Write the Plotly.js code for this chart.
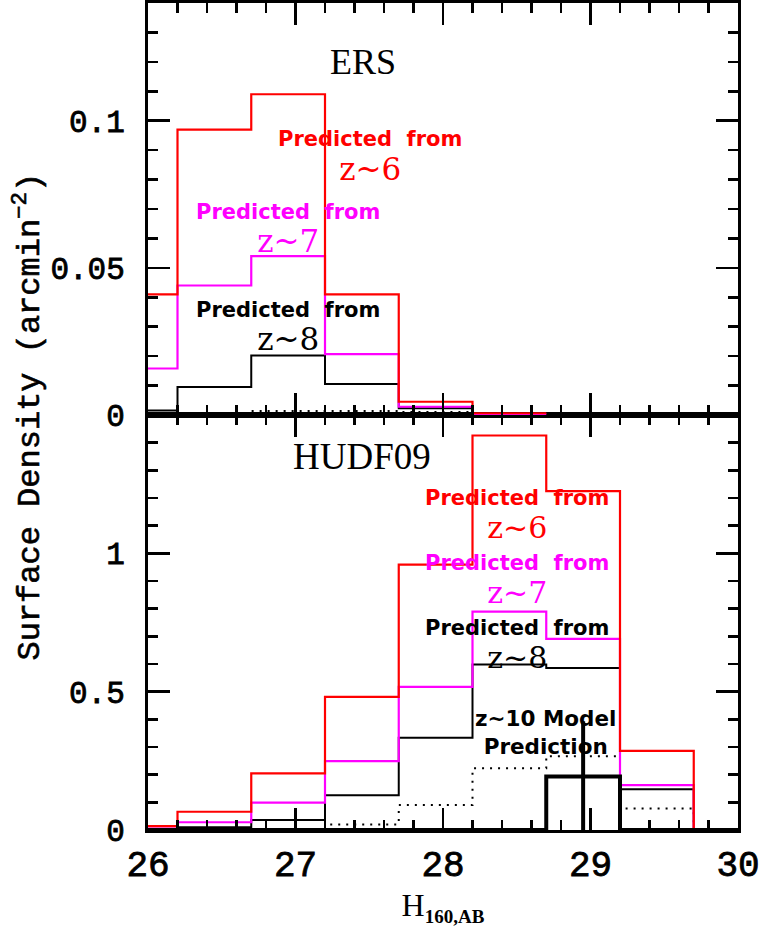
<!DOCTYPE html>
<html>
<head>
<meta charset="utf-8">
<script src="https://cdn.plot.ly/plotly-3.0.1.min.js"></script>
<style>
  html, body { margin: 0; padding: 0; background: #ffffff; }
  #chart { width: 763px; height: 935px; }
  /* slightly heavier strokes for the typewriter-style tick labels and axis title */
  #chart g.xtick text, #chart g.ytick text, #chart g.y2tick text { stroke: #000; stroke-width: 0.8px; }
  #chart g.annotation[data-index="6"] text { stroke: #000; stroke-width: 0.6px; }
</style>
</head>
<body>
<div id="chart"></div>
<script>
// Magnitude bin edges (H160,AB), bins 0.5 mag wide
const binEdges = [25.7, 26.2, 26.7, 27.2, 27.7, 28.2, 28.7, 29.2, 29.7, 30.2];

// ERS field: predicted surface densities (arcmin^-2), one value per bin
const ersFromZ6 = [0.041, 0.097, 0.109, 0.041, 0.0045, 0.0006];
const ersFromZ7 = [0.0158, 0.044, 0.054, 0.0207, 0.0028, 0.0003];
const ersFromZ8 = [0.0015, 0.0095, 0.0202, 0.0105, 0.0023, 0.0002];
const ersDotted = [0, 0, 0.0014, 0.0014, 0.0010, 0.0004];

// HUDF09 field: predicted surface densities (arcmin^-2), one value per bin
const hudfFromZ6 = [0.014, 0.066, 0.205, 0.481, 0.959, 1.426, 1.225, 0.286, 0];
const hudfFromZ7 = [0.005, 0.028, 0.099, 0.249, 0.517, 0.789, 0.691, 0.162, 0];
const hudfFromZ8 = [0.002, 0.010, 0.036, 0.126, 0.333, 0.598, 0.586, 0.147, 0];
const hudfDotted = [0, 0, 0, 0.020, 0.090, 0.223, 0.267, 0.078, 0];
const hudfZ10Model = [0, 0, 0, 0, 0, 0, 0.193, 0, 0];

// z~10 model point with its uncertainty
const z10PointX = [28.95];
const z10PointY = [0.193];
const z10PointErr = [0.2];

// Tick labels
const xTickVals = [26, 27, 28, 29, 30];
const xTickText = ['26', '27', '28', '29', '30'];
const ersTickVals = [0, 0.05, 0.1];
const ersTickText = ['0', '0.05', '0.1'];
const hudfTickVals = [0, 0.5, 1];
const hudfTickText = ['0', '0.5', '1'];

const RED = '#ff0000';
const MAGENTA = '#ff00ff';
const BLACK = '#000000';

// Step outline: each value spans one bin; the last value is repeated at the closing edge
function step(vals, color, width, dash, xa, ya) {
  const xs = binEdges.slice(0, vals.length + 1);
  const ys = vals.concat([vals[vals.length - 1]]);
  return {
    type: 'scatter', mode: 'lines', x: xs, y: ys,
    line: { shape: 'hv', color: color, width: width, dash: dash || 'solid' },
    xaxis: xa, yaxis: ya, hoverinfo: 'skip'
  };
}

const dotDash = '2px,6px';

const traces = [
  // ERS (upper panel)
  step(ersDotted, BLACK, 2, dotDash, 'x2', 'y2'),
  step(ersFromZ8, BLACK, 2, null, 'x2', 'y2'),
  step(ersFromZ7, MAGENTA, 2.2, null, 'x2', 'y2'),
  step(ersFromZ6, RED, 2.2, null, 'x2', 'y2'),
  // HUDF09 (lower panel)
  step(hudfDotted, BLACK, 2, dotDash, 'x', 'y'),
  step(hudfFromZ8, BLACK, 2, null, 'x', 'y'),
  step(hudfFromZ7, MAGENTA, 2.2, null, 'x', 'y'),
  step(hudfFromZ6, RED, 2.2, null, 'x', 'y'),
  step(hudfZ10Model, BLACK, 4, null, 'x', 'y'),
  {
    type: 'scatter', mode: 'markers',
    x: z10PointX, y: z10PointY,
    marker: { size: 1, color: BLACK, opacity: 0 },
    error_y: { type: 'data', array: z10PointErr, visible: true, color: BLACK, thickness: 4, width: 0 },
    xaxis: 'x', yaxis: 'y', hoverinfo: 'skip'
  }
];

const monoFamily = 'Liberation Mono, Courier New, monospace';
const tickFontY = { family: monoFamily, size: 31, color: BLACK };
const tickFontX = { family: monoFamily, size: 36, color: BLACK };

function frameAxis(extra) {
  return Object.assign({
    showline: true, linecolor: BLACK, linewidth: 3, mirror: 'allticks',
    ticks: 'inside', ticklen: 22, tickwidth: 2.5, tickcolor: BLACK,
    showgrid: false, zeroline: false, fixedrange: true
  }, extra);
}

const xMinor = { tickmode: 'linear', tick0: 26, dtick: 0.2, ticks: 'inside', ticklen: 10, tickwidth: 2.5, tickcolor: BLACK, showgrid: false };

const split = 0.5018;

const layout = {
  width: 763, height: 935,
  margin: { l: 148, r: 25, t: 3, b: 105 },
  paper_bgcolor: '#ffffff', plot_bgcolor: '#ffffff',
  showlegend: false,
  xaxis: frameAxis({
    domain: [0, 1], range: [26, 30], anchor: 'y',
    tickmode: 'array', tickvals: xTickVals, ticktext: xTickText,
    tickfont: tickFontX, ticklabelstandoff: 0,
    minor: xMinor,
    title: {
      text: 'H<sub><span style="font-size:19px;font-weight:bold">160,AB</span></sub>',
      font: { family: 'Liberation Serif, Times New Roman, serif', size: 32, color: BLACK },
      standoff: 4
    }
  }),
  xaxis2: frameAxis({
    domain: [0, 1], range: [26, 30], anchor: 'y2', matches: 'x',
    tickmode: 'array', tickvals: xTickVals, showticklabels: false,
    minor: xMinor
  }),
  yaxis: frameAxis({
    domain: [0, split], range: [0, 1.5], anchor: 'x',
    tickmode: 'array', tickvals: hudfTickVals, ticktext: hudfTickText,
    tickfont: tickFontY, ticklabelstandoff: 14,
    minor: { tickmode: 'linear', tick0: 0, dtick: 0.1, ticks: 'inside', ticklen: 10, tickwidth: 2.5, tickcolor: BLACK, showgrid: false }
  }),
  yaxis2: frameAxis({
    domain: [split, 1], range: [0, 0.14], anchor: 'x2',
    tickmode: 'array', tickvals: ersTickVals, ticktext: ersTickText,
    tickfont: tickFontY, ticklabelstandoff: 14,
    minor: { tickmode: 'linear', tick0: 0, dtick: 0.01, ticks: 'inside', ticklen: 10, tickwidth: 2.5, tickcolor: BLACK, showgrid: false }
  }),
  annotations: []
};

const serifFamily = 'Liberation Serif, Times New Roman, serif';

// "Predicted from" (bold) over a larger serif "z~N", both in one colour
function predictedLines(zText, color, zSize) {
  return '<span style="font-size:21px;color:' + color + '">Predicted  from</span><br>' +
         '<span style="font-family:DejaVu Serif;font-size:' + zSize + 'px;font-weight:normal;color:' + color + '">' +
         zText + '</span>';
}

function block(text, x, y, xa, ya, lineBase) {
  return {
    text: text, x: x, y: y, xref: xa, yref: ya, showarrow: false,
    xanchor: 'center', yanchor: 'middle',
    font: { family: 'DejaVu Sans, sans-serif', size: lineBase, color: BLACK, weight: 'bold' }
  };
}

layout.annotations.push(
  // 0-3: ERS panel
  { text: 'ERS', x: 27.458, y: 0.1201, xref: 'x2', yref: 'y2', showarrow: false,
    xanchor: 'center', yanchor: 'middle', font: { family: serifFamily, size: 36, color: BLACK } },
  block(predictedLines('z~6', RED, 31), 27.505, 0.0877, 'x2', 'y2', 26),
  block(predictedLines('z~7', MAGENTA, 31), 26.949, 0.0632, 'x2', 'y2', 25.5),
  block(predictedLines('z~8', BLACK, 31), 26.949, 0.0297, 'x2', 'y2', 25.5),

  // 4-5: HUDF09 panel
  { text: 'HUDF09', x: 27.451, y: 1.350, xref: 'x', yref: 'y', showarrow: false,
    xanchor: 'center', yanchor: 'middle', font: { family: serifFamily, size: 37, color: BLACK } },
  block(predictedLines('z~6', RED, 30) + '<br>' + predictedLines('z~7', MAGENTA, 30) + '<br>' +
        predictedLines('z~8', BLACK, 30), 28.502, 0.9016, 'x', 'y', 25),

  // 6: shared y-axis title spanning both panels
  { text: 'Surface Density (arcmin<sup>−2</sup>)', xref: 'paper', yref: 'paper',
    x: -0.205, y: 0.5, xanchor: 'center', yanchor: 'middle', textangle: -90, showarrow: false,
    font: { family: monoFamily, size: 32, color: BLACK } },

  // 7: z~10 model label
  block('z~10 Model<br>Prediction', 28.698, 0.352, 'x', 'y', 21.5)
);

Plotly.newPlot('chart', traces, layout, { staticPlot: true, displayModeBar: false }).then(function (gd) {
  // drop the empty placeholder title elements for the untitled axes
  gd.querySelectorAll('text').forEach(function (t) {
    if (!t.textContent.trim()) t.remove();
  });
});
</script>
</body>
</html>
